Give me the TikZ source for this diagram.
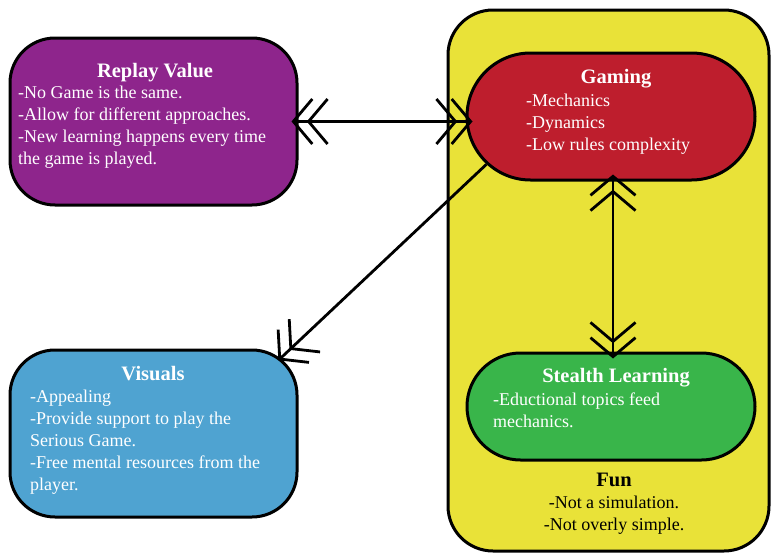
\documentclass[tikz,border=0pt]{standalone}
\usepackage{fontspec}
\setmainfont{Liberation Serif}
\usetikzlibrary{arrows.meta, shapes.misc, positioning}

\definecolor{replaycol}{RGB}{142,37,140}
\definecolor{gamingcol}{RGB}{190,30,45}
\definecolor{stealthcol}{RGB}{57,181,74}
\definecolor{visualcol}{RGB}{79,163,209}
\definecolor{funcol}{RGB}{233,226,56}

\begin{document}
\begin{tikzpicture}[
    x=1pt, y=-1pt,
    box/.style={
        rectangle, draw, line width=3pt, rounded corners=45pt,
        minimum width=287pt, minimum height=167pt
    },
    pill/.style={
        rounded rectangle, draw, line width=3pt,
        minimum width=288pt, inner sep=0pt
    },
    boxtitle/.style={font=\fontsize{20.5}{22}\selectfont\bfseries, text=white, inner sep=0pt, anchor=base},
    boxtext/.style ={font=\fontsize{18}{22}\selectfont, text=white, align=left, inner sep=0pt, anchor=base west},
    chev/.tip={Straight Barb[length=19pt, width=45pt, sep=-7pt]},
    dblarrow/.style={line width=2.8pt, {chev[]chev[]}-{chev[]chev[]}},
    onearrow/.style={line width=2.8pt, -{chev[]chev[]}}
]
\useasboundingbox (0,0) rectangle (772,554);

% boxes
\node [box, fill=replaycol] (replay)  at (153.5,121.5) {};
\node [box, fill=visualcol] (visuals) at (153.5,433.5) {};
\node [box, fill=funcol, minimum width=321pt, minimum height=541pt] (fun) at (608.5,280.5) {};
\node [pill, fill=gamingcol,  minimum height=127pt] (gaming)  at (611,116.5) {};
\node [pill, fill=stealthcol, minimum height=107pt] (stealth) at (611,406.5) {};

% texts (base = baseline of the last line)
\node [boxtitle] (replaytitle) at (155,77) {Replay Value};
\node [boxtext]  (replaytext)  at (18,164) {-No Game is the same.\\-Allow for different approaches.\\-New learning happens every time\\the game is played.};

\node [boxtitle] (gamingtitle) at (616,83) {Gaming};
\node [boxtext]  (gamingtext)  at (526,150) {-Mechanics\\-Dynamics\\-Low rules complexity};

\node [boxtitle] (stealthtitle) at (616,382) {Stealth Learning};
\node [boxtext]  (stealthtext)  at (493,427) {-Eductional topics feed\\mechanics.};

\node [boxtitle] (visualstitle) at (153,380) {Visuals};
\node [boxtext]  (visualstext)  at (30,490) {-Appealing\\-Provide support to play the\\Serious Game.\\-Free mental resources from the\\player.};

\node [boxtitle, text=black] (funtitle) at (614,486) {Fun};
\node [boxtext, text=black, align=center, anchor=base] (funtext) at (614,530) {-Not a simulation.\\-Not overly simple.};

% connectors
\draw [dblarrow] (replay.east) -- (replay.east -| gaming.west);
\draw [dblarrow] ([xshift=2pt]gaming.south) -- ([xshift=2pt]stealth.north);
\draw [onearrow] (gaming.201) -- ([xshift=-15pt, yshift=-7pt]visuals.north east);
\end{tikzpicture}
\end{document}
